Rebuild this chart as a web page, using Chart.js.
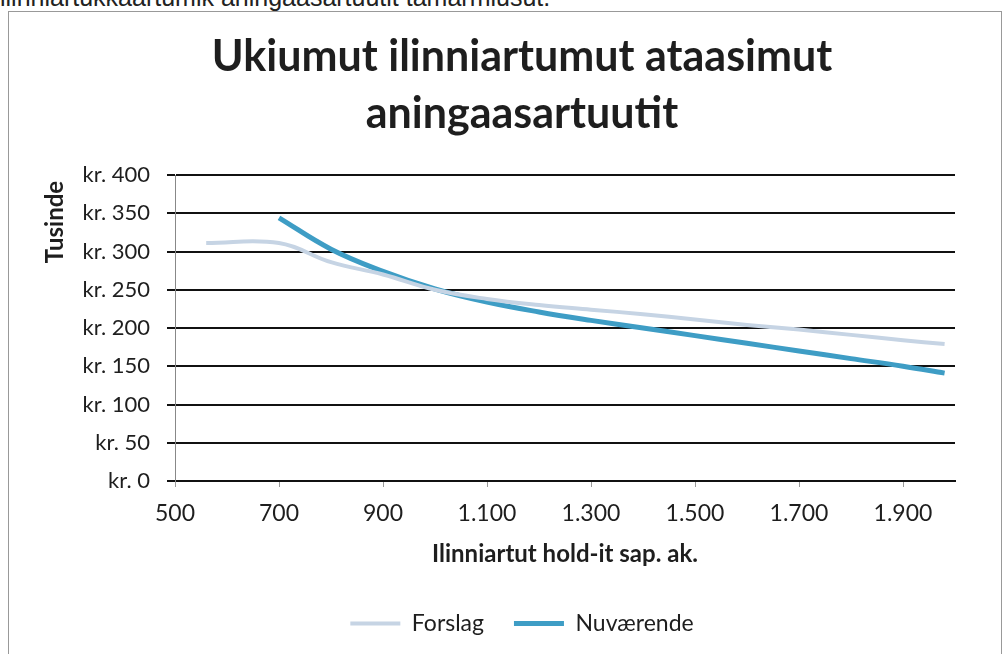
<!DOCTYPE html>
<html>
<head>
<meta charset="utf-8">
<script src="https://cdn.jsdelivr.net/npm/chart.js"></script>
<style>
  body { margin: 0; background: #fff; width: 1007px; height: 654px; overflow: hidden; position: relative; }
  #caption { position: absolute; left: 0; top: -15px; font: 25px 'Liberation Sans', Arial, sans-serif; line-height: 25px; color: #222; white-space: nowrap; }
  #frame { position: absolute; left: 8px; top: 11px; width: 992px; height: 650px; border: 1px solid #999; border-bottom: none; }
  #chart { position: absolute; left: 8px; top: 11px; }
</style>
</head>
<body>
<div id="caption">ilinniartukkaartumik aningaasartuutit tamarmiusut.</div>
<div id="frame"></div>
<canvas id="chart" width="1040" height="643"></canvas>
<script>
// values (y in thousand kr.)
const forslagX = [560, 700, 800, 900, 1000, 1100, 1200, 1300, 1400, 1500, 1600, 1700, 1800, 1900, 1980];
const forslagY = [311, 311, 286, 270, 250, 238, 230, 224, 218, 211, 204, 198, 191, 184, 179];
const nuvX = [700, 800, 900, 1000, 1100, 1200, 1300, 1400, 1500, 1600, 1700, 1800, 1900, 1980];
const nuvY = [344, 303, 274, 251, 234, 221, 210, 200, 190, 180, 170, 160, 150, 141];
const xTicks = [500, 700, 900, 1100, 1300, 1500, 1700, 1900];
const yTicks = [0, 50, 100, 150, 200, 250, 300, 350, 400];

const FONT = 'Lato';
const TXT = '#1e1e1e';

function thousands(v) {
  if (v < 1000) return String(v);
  return Math.floor(v / 1000) + '.' + String(v % 1000).padStart(3, '0');
}

const ctx = document.getElementById('chart').getContext('2d');
new Chart(ctx, {
  type: 'line',
  data: {
    datasets: [{
      label: 'Forslag',
      data: forslagX.map((x, i) => ({ x: x, y: forslagY[i] })),
      borderColor: '#c6d4e4',
      backgroundColor: '#c6d4e4',
      borderWidth: 4,
      pointRadius: 0,
      tension: 0.4
    }, {
      label: 'Nuværende',
      data: nuvX.map((x, i) => ({ x: x, y: nuvY[i] })),
      borderColor: '#3e9dc5',
      backgroundColor: '#3e9dc5',
      borderWidth: 5,
      pointRadius: 0,
      tension: 0.4
    }]
  },
  options: {
    responsive: false,
    animation: false,
    devicePixelRatio: 1,
    layout: { padding: { left: 0, right: 12, top: 0, bottom: 9 } },
    plugins: {
      title: {
        display: true,
        text: ['Ukiumut ilinniartumut ataasimut', 'aningaasartuutit'],
        color: TXT,
        font: { family: FONT, size: 43, weight: 'bold', lineHeight: 57 / 43 },
        padding: { top: 18, bottom: 32 }
      },
      legend: {
        position: 'bottom',
        labels: {
          usePointStyle: true,
          pointStyle: 'line',
          pointStyleWidth: 50,
          padding: 30,
          color: TXT,
          font: { family: FONT, size: 23 }
        }
      },
      tooltip: { enabled: false }
    },
    scales: {
      x: {
        type: 'linear',
        min: 500,
        max: 2000,
        afterBuildTicks: s => { s.ticks = xTicks.map(v => ({ value: v })); },
        afterFit: s => { s.height = 101; },
        ticks: {
          callback: v => thousands(v),
          color: TXT,
          font: { family: FONT, size: 23 },
          padding: 13,
          maxRotation: 0,
          autoSkip: false
        },
        grid: { drawOnChartArea: false, tickLength: 6, color: '#999' },
        border: { color: '#111', width: 2 },
        title: {
          display: true,
          text: 'Ilinniartut hold-it sap. ak.',
          color: TXT,
          font: { family: FONT, size: 24, weight: 'bold' },
          padding: { top: 0, bottom: 13 }
        }
      },
      y: {
        min: 0,
        max: 400,
        afterBuildTicks: s => { s.ticks = yTicks.map(v => ({ value: v })); },
        afterFit: s => { s.width = 167; },
        ticks: {
          callback: v => 'kr. ' + v,
          color: TXT,
          font: { family: FONT, size: 22 },
          padding: 17
        },
        grid: { color: '#111', lineWidth: 2, tickLength: 8 },
        border: { color: '#888', width: 1 },
        title: {
          display: true,
          text: 'Tusinde ',
          align: 'end',
          color: TXT,
          font: { family: FONT, size: 24, weight: 'bold' },
          padding: { top: 33 }
        }
      },
      // empty right-hand spacer so title and legend centre where Excel put them
      spacer: {
        position: 'right',
        display: true,
        afterFit: s => { s.width = 81; },
        ticks: { display: false },
        grid: { display: false },
        border: { display: false }
      }
    }
  }
});
</script>
</body>
</html>
